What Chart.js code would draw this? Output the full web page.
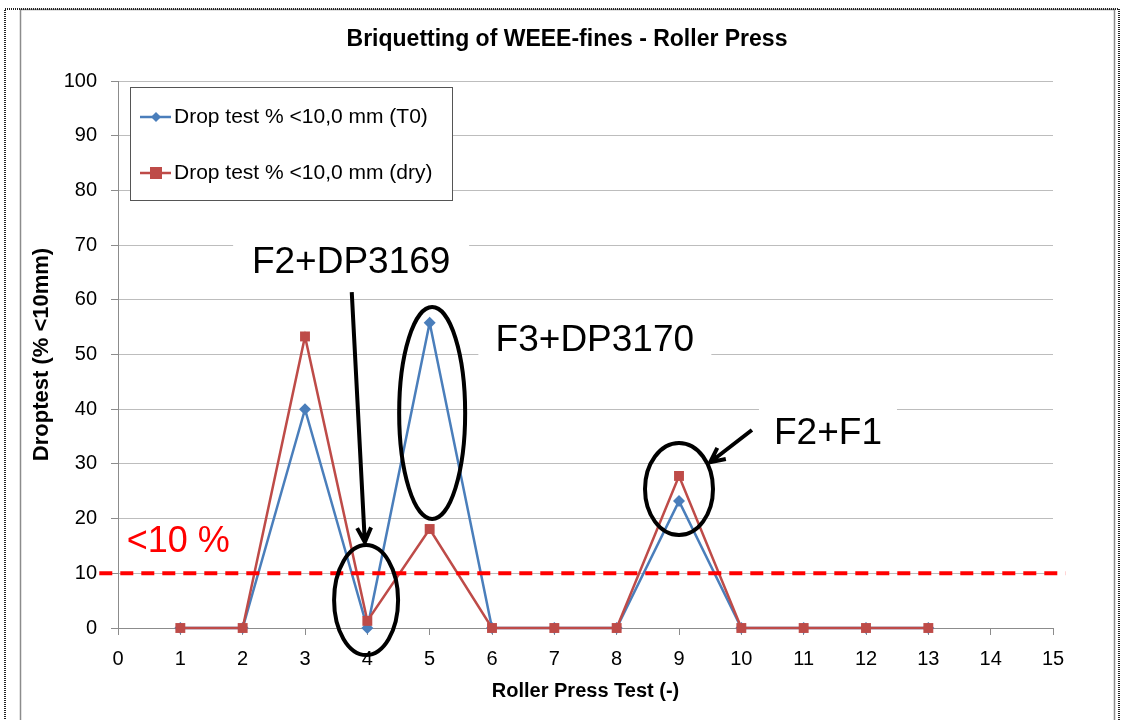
<!DOCTYPE html>
<html>
<head>
<meta charset="utf-8">
<script src="https://cdn.jsdelivr.net/npm/chart.js@4.4.1/dist/chart.umd.min.js"></script>
<style>
  html, body { margin: 0; padding: 0; background: #fff; }
</style>
</head>
<body>
<canvas id="drop-chart" width="1121" height="720"></canvas>
<script>
// roller press test number and drop test results (% < 10 mm)
const tests = [1, 2, 3, 4, 5, 6, 7, 8, 9, 10, 11, 12, 13];
const dropT0 = [0, 0, 40, 0, 55.8, 0, 0, 0, 23.2, 0, 0, 0, 0];
const dropDry = [0, 0, 53.3, 1.3, 18.1, 0, 0, 0, 27.8, 0, 0, 0, 0];
const limit = 10;

const BLUE = '#4a7ebb';
const RED = '#be4b48';
const FONT = '"Liberation Sans", Arial, sans-serif';

function ellipse(ctx, x, y, rx, ry) {
  ctx.beginPath();
  ctx.ellipse(x, y, rx, ry, 0, 0, Math.PI * 2);
  ctx.stroke();
}

function arrow(ctx, x1, y1, x2, y2) {
  const a = Math.atan2(y2 - y1, x2 - x1);
  const h = 16;
  ctx.beginPath();
  ctx.moveTo(x1, y1);
  ctx.lineTo(x2, y2);
  ctx.moveTo(x2 - h * Math.cos(a - 0.45), y2 - h * Math.sin(a - 0.45));
  ctx.lineTo(x2, y2);
  ctx.lineTo(x2 - h * Math.cos(a + 0.45), y2 - h * Math.sin(a + 0.45));
  ctx.stroke();
}

function label(ctx, text, cx, cy, boxW, boxH) {
  ctx.fillStyle = '#fff';
  ctx.fillRect(cx - boxW / 2, cy - boxH / 2, boxW, boxH);
  ctx.fillStyle = '#000';
  ctx.font = '37px ' + FONT;
  ctx.textAlign = 'center';
  ctx.textBaseline = 'middle';
  ctx.fillText(text, cx, cy);
}

const overlay = {
  id: 'overlay',
  beforeDraw(chart) {
    const ctx = chart.ctx;
    ctx.save();
    ctx.fillStyle = '#fff';
    ctx.fillRect(0, 0, chart.width, chart.height);
    // chart frame
    ctx.strokeStyle = '#8c8c8c';
    ctx.lineWidth = 1.5;
    ctx.strokeRect(20.5, 9.5, 1094, 760);
    // dotted outer border
    ctx.strokeStyle = '#222';
    ctx.lineWidth = 2;
    ctx.setLineDash([1, 1]);
    ctx.strokeRect(5, 9, 1114, 760);
    ctx.restore();
  },
  afterDatasetsDraw(chart) {
    const ctx = chart.ctx;
    const x = chart.scales.x, y = chart.scales.y;
    ctx.save();

    // title
    ctx.fillStyle = '#000';
    ctx.font = 'bold 23px ' + FONT;
    ctx.textAlign = 'center';
    ctx.textBaseline = 'middle';
    ctx.fillText('Briquetting of WEEE-fines - Roller Press', 567, 40);

    // 10 % limit
    const yl = y.getPixelForValue(limit);
    ctx.strokeStyle = '#ff0000';
    ctx.lineWidth = 4;
    ctx.setLineDash([13, 8]);
    ctx.beginPath();
    ctx.moveTo(x.getPixelForValue(-0.3), yl);
    ctx.lineTo(x.getPixelForValue(15.2), yl);
    ctx.stroke();
    ctx.setLineDash([]);
    ctx.fillStyle = '#ff0000';
    ctx.font = '36px ' + FONT;
    ctx.textAlign = 'left';
    ctx.textBaseline = 'middle';
    ctx.fillText('<10 %', x.getPixelForValue(0.14), y.getPixelForValue(15.7));

    // ellipses and arrows
    ctx.strokeStyle = '#000';
    ctx.lineWidth = 4;
    ellipse(ctx, x.getPixelForValue(3.98), y.getPixelForValue(5.1), 32, 55);
    ellipse(ctx, x.getPixelForValue(5.04), y.getPixelForValue(39.3), 33, 106);
    ellipse(ctx, x.getPixelForValue(9.0), y.getPixelForValue(25.4), 34, 46);
    arrow(ctx, x.getPixelForValue(3.75), y.getPixelForValue(61.4), x.getPixelForValue(3.96), y.getPixelForValue(15.7));
    arrow(ctx, x.getPixelForValue(10.17), y.getPixelForValue(36.2), x.getPixelForValue(9.5), y.getPixelForValue(30.3));

    // labels with white boxes
    label(ctx, 'F2+DP3169', x.getPixelForValue(3.74), y.getPixelForValue(66.7), 236, 56);
    label(ctx, 'F3+DP3170', x.getPixelForValue(7.65), y.getPixelForValue(52.5), 233, 50);
    label(ctx, 'F2+F1', x.getPixelForValue(11.39), y.getPixelForValue(35.5), 138, 50);

    // legend
    ctx.fillStyle = '#fff';
    ctx.fillRect(130, 87, 322, 113);
    ctx.strokeStyle = '#555';
    ctx.lineWidth = 1;
    ctx.strokeRect(130.5, 87.5, 322, 113);
    const rows = [117, 173];
    chart.data.datasets.slice().reverse().forEach((ds, i) => {
      const ly = rows[i];
      ctx.strokeStyle = ds.borderColor;
      ctx.lineWidth = 2.5;
      ctx.beginPath();
      ctx.moveTo(140, ly);
      ctx.lineTo(171, ly);
      ctx.stroke();
      ctx.fillStyle = ds.backgroundColor;
      if (ds.pointStyle === 'rectRot') {
        ctx.beginPath();
        ctx.moveTo(156, ly - 5); ctx.lineTo(161, ly); ctx.lineTo(156, ly + 5); ctx.lineTo(151, ly);
        ctx.closePath();
        ctx.fill();
      } else {
        ctx.fillRect(150, ly - 6, 12, 12);
      }
      ctx.fillStyle = '#000';
      ctx.font = '21px ' + FONT;
      ctx.textAlign = 'left';
      ctx.textBaseline = 'middle';
      ctx.fillText(ds.label, 174, ly);
    });
    ctx.restore();
  }
};

const config = {
  type: 'line',
  data: {
    labels: tests,
    datasets: [
      {
        label: 'Drop test % <10,0 mm (dry)',
        data: tests.map((t, i) => ({ x: t, y: dropDry[i] })),
        borderColor: RED,
        backgroundColor: RED,
        borderWidth: 2.5,
        pointStyle: 'rect',
        pointRadius: 7,
        pointBorderWidth: 0,
        tension: 0,
        clip: false,
        order: 1
      },
      {
        label: 'Drop test % <10,0 mm (T0)',
        data: tests.map((t, i) => ({ x: t, y: dropT0[i] })),
        borderColor: BLUE,
        backgroundColor: BLUE,
        borderWidth: 2.5,
        pointStyle: 'rectRot',
        pointRadius: 6,
        pointBorderWidth: 0,
        tension: 0,
        clip: false,
        order: 2
      }
    ]
  },
  options: {
    responsive: false,
    animation: false,
    layout: { padding: { left: 20, right: 68, top: 81, bottom: 12 } },
    plugins: {
      legend: { display: false },
      title: { display: false },
      tooltip: { enabled: false }
    },
    scales: {
      x: {
        type: 'linear',
        min: 0,
        max: 15,
        afterFit: s => { s.height = 80; },
        ticks: { stepSize: 1, color: '#000', padding: 12, font: { family: FONT, size: 20 } },
        grid: { drawOnChartArea: false, color: '#8c8c8c', tickLength: 7 },
        border: { color: '#8c8c8c' },
        title: {
          display: true,
          text: 'Roller Press Test (-)',
          color: '#000',
          font: { family: FONT, size: 20, weight: 'bold' },
          padding: { top: 0, bottom: 5 }
        }
      },
      y: {
        min: 0,
        max: 100,
        afterFit: s => { s.width = 98; },
        ticks: { stepSize: 10, color: '#000', padding: 14, font: { family: FONT, size: 20 } },
        grid: { color: '#bdbdbd', tickColor: '#8c8c8c', tickLength: 7 },
        border: { color: '#8c8c8c' },
        title: {
          display: true,
          text: 'Droptest (% <10mm)',
          color: '#000',
          font: { family: FONT, size: 22, weight: 'bold' },
          padding: { top: 9, bottom: 0 }
        }
      }
    }
  },
  plugins: [overlay]
};

new Chart(document.getElementById('drop-chart').getContext('2d'), config);
</script>
</body>
</html>
